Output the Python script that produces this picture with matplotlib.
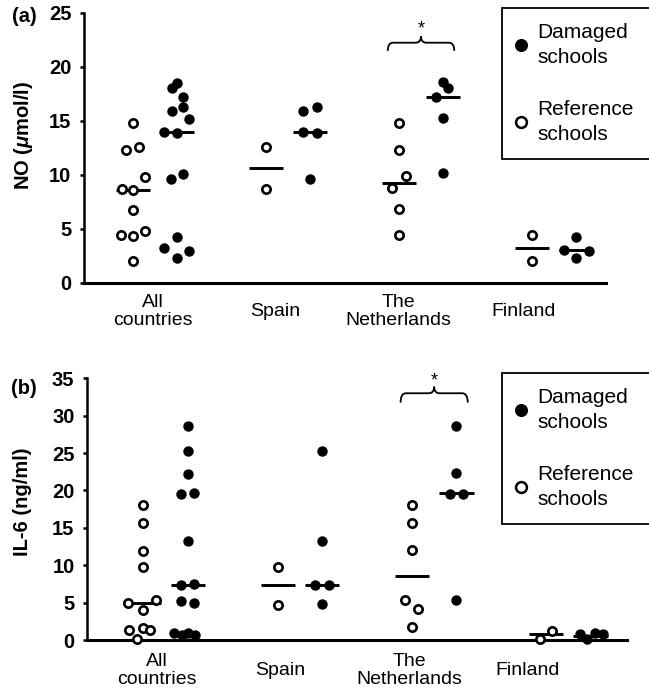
import numpy as np
import matplotlib
matplotlib.use('Agg')
import matplotlib.pyplot as plt
from matplotlib.path import Path
from matplotlib.patches import PathPatch
from matplotlib.lines import Line2D

plt.rcParams['font.family'] = ['Liberation Sans', 'DejaVu Sans']
plt.rcParams['mathtext.fontset'] = 'custom'
plt.rcParams['mathtext.rm'] = 'Liberation Sans:bold'
plt.rcParams['mathtext.it'] = 'Liberation Sans:italic:bold'
plt.rcParams['mathtext.bf'] = 'Liberation Sans:bold'

# ---- data ----
countries = ['All\ncountries', 'Spain', 'The\nNetherlands', 'Finland']

# (a) NO (umol/l)
no_ref_all = [14.8, 12.3, 12.6, 9.8, 8.7, 8.6, 6.8, 4.4, 4.35, 4.8, 2.0]
no_ref_spain = [12.6, 8.7]
no_ref_nl = [14.8, 12.3, 9.9, 8.8, 6.85, 4.45]
no_ref_fin = [4.45, 2.0]
no_dam_all = [18.55, 18.1, 17.2, 16.3, 15.95, 15.2, 14.0, 13.85, 10.1, 9.65,
              4.25, 3.2, 3.0, 2.3]
no_dam_spain = [15.95, 16.3, 14.0, 13.9, 9.65]
no_dam_nl = [18.65, 18.1, 17.2, 15.25, 10.15]
no_dam_fin = [4.3, 3.1, 2.95, 2.3]
no_ref_median = [8.6, 10.65, 9.3, 3.2]
no_dam_median = [14.0, 14.0, 17.2, 3.1]

# (b) IL-6 (ng/ml)
il_ref_all = [18.05, 15.6, 11.95, 9.75, 4.9, 4.0, 5.35, 1.35, 1.55, 1.35, 0.1]
il_ref_spain = [9.8, 4.7]
il_ref_nl = [18.1, 15.7, 12.0, 5.4, 4.1, 1.7]
il_ref_fin = [0.1, 1.25]
il_dam_all = [28.6, 25.3, 22.2, 19.5, 19.6, 13.3, 7.35, 7.5, 5.25, 5.0,
              0.9, 0.65, 0.95, 0.65]
il_dam_spain = [25.3, 13.3, 7.3, 7.3, 4.75]
il_dam_nl = [28.6, 22.3, 19.5, 19.5, 5.35]
il_dam_fin = [0.75, 0.2, 0.95, 0.75]
il_ref_median = [4.9, 7.3, 8.55, 0.8]
il_dam_median = [7.35, 7.3, 19.6, 0.6]

# ---- layout (horizontal spread of overlapping dots, in dot widths) ----
jit_no_ref = [[0, -0.6, 0.5, 1, -0.9, 0, 0, -1, 0, 1, 0], [0, 0],
              [0, 0, 0.55, -0.6, 0, 0], [0, 0]]
jit_no_dam = [[0, -0.45, 0.47, 0.47, -0.45, 1, -1.05, 0, 0.47, -0.5, 0, -1.05, 1, 0],
              [-0.55, 0.55, -0.55, 0.55, 0], [0, 0.4, -0.55, 0, 0], [0, -1, 1.1, 0]]
jit_il_ref = [[0, 0, 0, 0, -1.3, 0, 1.05, -1.2, 0, 0.55, -0.55], [0, 0],
              [0, 0, 0, -0.55, 0.5, 0], [-0.5, 0.5]]
jit_il_dam = [[0, 0, 0, -0.55, 0.55, 0, -0.55, 0.55, -0.55, 0.55, -1.1, -0.5, 0, 0.6],
              [0, 0, -0.55, 0.55, 0], [0, 0, -0.5, 0.55, 0], [-0.9, -0.3, 0.35, 1.0]]

side = 0.165   # offset of reference / damaged columns from group centre
dot = 0.09     # one dot width in x units
half_med = 0.128


def brace(ax, xc, half, y, drop, rise):
    r = half * 0.16
    for s in (-1, 1):
        xe = xc + s * half
        verts = [(xe, y - drop), (xe, y), (xe - s * r, y), (xc + s * r, y),
                 (xc, y), (xc, y + rise)]
        codes = [Path.MOVETO, Path.CURVE3, Path.CURVE3, Path.LINETO,
                 Path.CURVE3, Path.CURVE3]
        ax.add_patch(PathPatch(Path(verts, codes), fill=False, lw=1.3,
                               color='black', clip_on=False, capstyle='butt'))


def draw_panel(ax, refs, dams, jr, jd, ref_med, dam_med, ymax, xlim, label_pos,
               ylabel, leg_anchor):
    for i in range(4):
        xr = i - side
        xd = i + side
        ax.plot(xr + dot * np.array(jr[i]), refs[i], 'o', ms=6.0, mfc='white',
                mec='black', mew=1.9, zorder=4, clip_on=False)
        ax.plot(xd + dot * np.array(jd[i]), dams[i], 'o', ms=7.5, mfc='black',
                mec='black', mew=0, zorder=4, clip_on=False)
        ax.plot([xr - half_med, xr + half_med], [ref_med[i]] * 2, '-', color='black',
                lw=2.1, solid_capstyle='butt', zorder=3)
        ax.plot([xd - half_med, xd + half_med], [dam_med[i]] * 2, '-', color='black',
                lw=2.1, solid_capstyle='butt', zorder=3)

    ax.set_xlim(*xlim)
    ax.set_ylim(0, ymax)
    ax.set_yticks(np.arange(0, ymax + 1, 5))
    ax.set_xticks(label_pos)
    ax.set_xticklabels(countries, fontsize=14, linespacing=1.12)
    for lbl in ax.get_xticklabels():
        lbl.set_va('center')
    for lbl in ax.get_yticklabels():
        lbl.set_fontweight('bold')
    ax.tick_params(axis='x', length=0, pad=20.5)
    ax.tick_params(axis='y', length=3, width=1.8, labelsize=14.5, pad=6)
    for sp in ['top', 'right']:
        ax.spines[sp].set_visible(False)
    ax.spines['left'].set_linewidth(1.8)
    ax.spines['bottom'].set_linewidth(2.2)
    ax.set_ylabel(ylabel, fontsize=14.5, fontweight='bold')
    ax.yaxis.label.set_va('center')

    handles = [Line2D([], [], ls='', marker='o', ms=9.4, mfc='black', mec='black', mew=0),
               Line2D([], [], ls='', marker='o', ms=7.8, mfc='white', mec='black', mew=1.8)]
    leg = ax.legend(handles, ['Damaged\nschools', 'Reference\nschools'],
                    loc='upper left', bbox_to_anchor=leg_anchor, mode='expand',
                    bbox_transform=ax.figure.transFigure, frameon=True, fancybox=False,
                    edgecolor='black', framealpha=1, fontsize=15, borderpad=0.7,
                    handlelength=0.4, handletextpad=0.6, labelspacing=1.55,
                    borderaxespad=0)
    leg.get_frame().set_linewidth(1.3)
    for t in leg.get_texts():
        t.set_linespacing(1.45)
    return leg


fig = plt.figure(figsize=(6.49, 6.93), dpi=100)
W, H = 649, 693

# panel (a)
ax1 = fig.add_axes([84 / W, 1 - 283 / H, (606 - 84) / W, 270 / H])
draw_panel(ax1, [no_ref_all, no_ref_spain, no_ref_nl, no_ref_fin],
           [no_dam_all, no_dam_spain, no_dam_nl, no_dam_fin],
           jit_no_ref, jit_no_dam, no_ref_median, no_dam_median,
           25, (-0.534, 3.391), [-0.015, 0.90, 1.83, 2.77],
           r'NO ($\mu$mol/l)', (502 / W, 1 - 8 / H, 152 / W, 0))
ax1.yaxis.set_label_coords(-0.116, 0.548)
brace(ax1, 2, 0.25, 22.25, 0.75, 0.6)
ax1.text(2, 23.5, '*', ha='center', va='center', fontsize=13)
fig.text(24 / W, 1 - 17 / H, '(a)', ha='center', va='center', fontsize=14.5, fontweight='bold')

# panel (b)
ax2 = fig.add_axes([87 / W, 1 - 640 / H, (627 - 87) / W, 261.7 / H])
draw_panel(ax2, [il_ref_all, il_ref_spain, il_ref_nl, il_ref_fin],
           [il_dam_all, il_dam_spain, il_dam_nl, il_dam_fin],
           jit_il_ref, jit_il_dam, il_ref_median, il_dam_median,
           35, (-0.585, 3.436), [-0.063, 0.854, 1.817, 2.698],
           'IL-6 (ng/ml)', (502 / W, 1 - 373 / H, 152 / W, 0))
ax2.yaxis.set_label_coords(-0.12, 0.527)
ax2.tick_params(axis='x', pad=22)
brace(ax2, 2, 0.25, 33.0, 1.25, 0.9)
ax2.text(2, 34.6, '*', ha='center', va='center', fontsize=13)
fig.text(24 / W, 1 - 388 / H, '(b)', ha='center', va='center', fontsize=14.5, fontweight='bold')

fig.savefig('out.png', dpi=100)
